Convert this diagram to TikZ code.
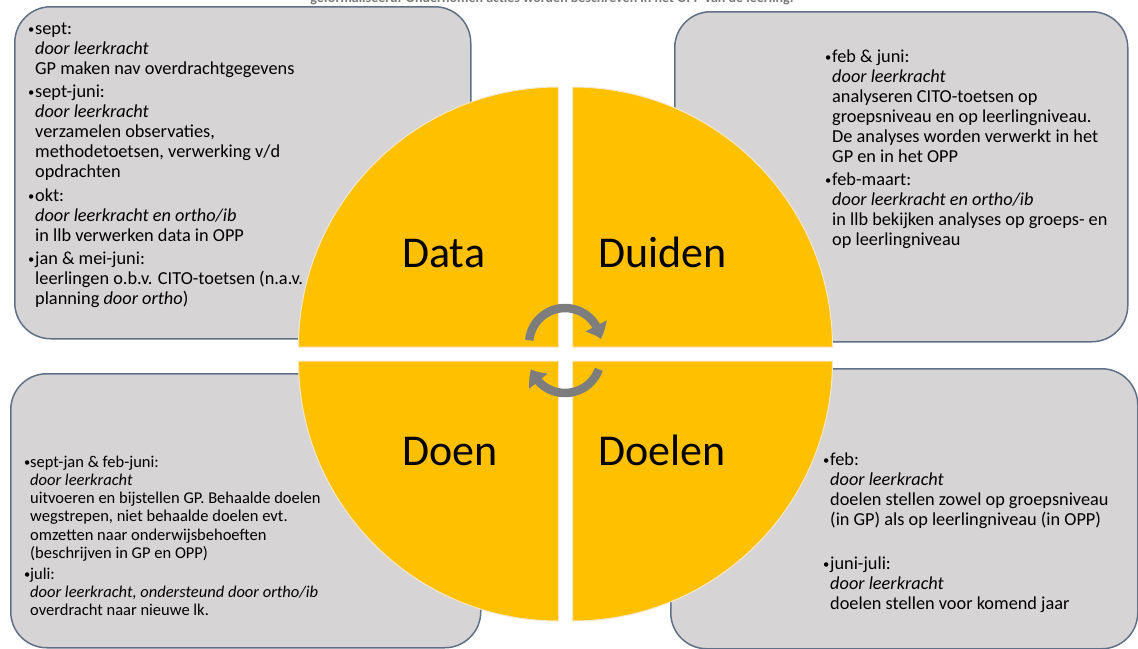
\documentclass[tikz,border=0pt]{standalone}
\usepackage{fontspec}
\setmainfont{Carlito}
\usetikzlibrary{arrows.meta,bending}
\definecolor{boxfill}{RGB}{214,212,213}
\definecolor{boxline}{RGB}{96,112,134}
\definecolor{quadfill}{RGB}{255,192,0}
\definecolor{quadedge}{RGB}{245,232,200}
\definecolor{arrowgray}{RGB}{125,125,125}
\definecolor{capgray}{RGB}{120,120,120}
\newcommand\smallbul{{\fontsize{12.5}{12.5}\selectfont\raisebox{0.8pt}{\textbullet}}}
\newcommand\bulline[2][7pt]{\makebox[#1][l]{\smallbul}#2}
\newcommand\contline[2][7pt]{\hspace*{#1}#2}
\begin{document}
\begin{tikzpicture}[x=1pt,y=1pt,
  infobox/.style={draw=boxline, line width=1.5pt, fill=boxfill, rounded corners=36pt,
    anchor=north west, inner sep=0pt},
  blocktxt/.style={anchor=base west, inner sep=0pt, align=left},
  quadrant/.style={fill=quadfill, draw=quadedge, line width=1pt},
  biglabel/.style={anchor=base west, inner sep=0pt, font=\fontsize{44}{48}\selectfont},
  cyclearrow/.style={draw=arrowgray, line width=8.5pt, -{Triangle[width=23pt,length=14pt,bend]}}
]
\useasboundingbox (0,0) rectangle (1138,-648);

% caption (cut off at the top edge, as in the reference)
\node[anchor=base, inner sep=0pt, text=capgray, font=\bfseries\fontsize{14}{16}\selectfont] (cap) at (552,-2.5)
  {geformaliseerd. Ondernomen acties worden beschreven in het OPP van de leerling.};

% boxes
\node[infobox, minimum width=456pt, minimum height=332pt] (boxTL) at (14,-6) {};
\node[infobox, minimum width=453pt, minimum height=330pt] (boxTR) at (674,-11) {};
\node[infobox, minimum width=470pt, minimum height=274pt] (boxBL) at (10,-373) {};
\node[infobox, minimum width=467pt, minimum height=280pt] (boxBR) at (670,-368) {};

% texts
\node[blocktxt] (txtTL) at (28,-34) {\parbox[t]{430pt}{\raggedright\fontsize{18.3}{20}\selectfont
\bulline{sept:}\\
\contline{\textit{door leerkracht}}\\
\contline{GP maken nav overdrachtgegevens}\\[3.5pt]
\bulline{sept-juni:}\\
\contline{\textit{door leerkracht}}\\
\contline{verzamelen observaties,}\\
\contline{methodetoetsen, verwerking v/d}\\
\contline{opdrachten}\\[3.5pt]
\bulline{okt:}\\
\contline{\textit{door leerkracht en ortho/ib}}\\
\contline{in llb verwerken data in OPP}\\[3.5pt]
\bulline{jan \& mei-juni:}\\
\contline{leerlingen o.b.v. CITO-toetsen (n.a.v.}\\
\contline{planning \textit{door ortho})}}};

\node[blocktxt] (txtTR) at (825,-62) {\parbox[t]{300pt}{\raggedright\fontsize{18.3}{20}\selectfont
\bulline{feb \& juni:}\\
\contline{\textit{door leerkracht}}\\
\contline{analyseren CITO-toetsen op}\\
\contline{groepsniveau en op leerlingniveau.}\\
\contline{De analyses worden verwerkt in het}\\
\contline{GP en in het OPP}\\[3.5pt]
\bulline{feb-maart:}\\
\contline{\textit{door leerkracht en ortho/ib}}\\
\contline{in llb bekijken analyses op groeps- en}\\
\contline{op leerlingniveau}}};

\node[blocktxt] (txtBL) at (24,-467) {\parbox[t]{440pt}{\raggedright\fontsize{16.5}{18.3}\selectfont
\bulline[6pt]{sept-jan \& feb-juni:}\\
\contline[6pt]{\textit{door leerkracht}}\\
\contline[6pt]{uitvoeren en bijstellen GP. Behaalde doelen}\\
\contline[6pt]{wegstrepen, niet behaalde doelen evt.}\\
\contline[6pt]{omzetten naar onderwijsbehoeften}\\
\contline[6pt]{(beschrijven in GP en OPP)}\\[2.4pt]
\bulline[6pt]{juli:}\\
\contline[6pt]{\textit{door leerkracht, ondersteund door ortho/ib}}\\
\contline[6pt]{overdracht naar nieuwe lk.}}};

\node[blocktxt] (txtBR) at (823,-465) {\parbox[t]{310pt}{\raggedright\fontsize{18.3}{20}\selectfont
\bulline{feb:}\\
\contline{\textit{door leerkracht}}\\
\contline{doelen stellen zowel op groepsniveau}\\
\contline{(in GP) als op leerlingniveau (in OPP)}\\[24pt]
\bulline{juni-juli:}\\
\contline{\textit{door leerkracht}}\\
\contline{doelen stellen voor komend jaar}}};

% circle quadrants
\path[quadrant] (558.5,-347) -- ++(-260,0) arc[start angle=180, end angle=90, radius=260] -- cycle;
\path[quadrant] (572.5,-347) -- ++(0,260) arc[start angle=90, end angle=0, radius=260] -- cycle;
\path[quadrant] (558.5,-361) -- ++(-260,0) arc[start angle=180, end angle=270, radius=260] -- cycle;
\path[quadrant] (572.5,-361) -- ++(260,0) arc[start angle=0, end angle=-90, radius=260] -- cycle;

% labels
\node[biglabel] (data) at (402,-267) {Data};
\node[biglabel] (duiden) at (598,-267) {Duiden};
\node[biglabel] (doen) at (402,-465) {Doen};
\node[biglabel] (doelen) at (598,-465) {Doelen};

% cycle arrows
\coordinate (ctop) at (565,-344);
\coordinate (cbot) at (565,-357);
\draw[cyclearrow] (ctop) ++(174:36) arc[start angle=174, end angle=8, radius=36];
\draw[cyclearrow] (cbot) ++(-20:36) arc[start angle=-20, end angle=-160, radius=36];
\end{tikzpicture}
\end{document}
